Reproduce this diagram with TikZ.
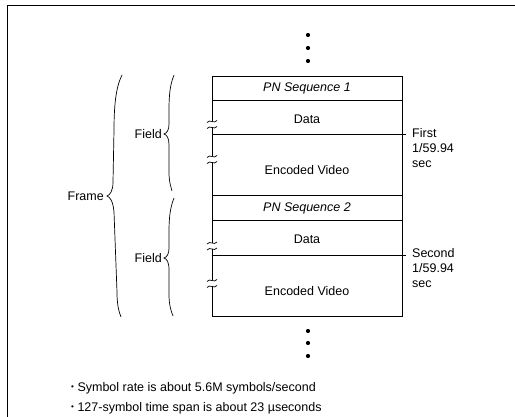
\documentclass[tikz,border=0pt]{standalone}
\usepackage{fontspec}
\setmainfont{Liberation Sans}
\newcommand{\smallbul}{\raisebox{2.2pt}{\fontsize{8}{8}\selectfont •}\hspace{3.5pt}}
\begin{document}
\begin{tikzpicture}[x=1pt,y=-1pt,
  ln/.style={line width=0.8pt},
  thin/.style={line width=0.7pt},
  txt/.style={font=\fontsize{12.5}{15}\selectfont, inner sep=0pt},
  pn/.style={txt, font=\fontsize{12.5}{15}\selectfont\itshape},
  dot/.style={circle, fill=black, inner sep=0pt, minimum size=4.2pt},
  brk/.style={line width=0.7pt}]
\useasboundingbox (0,0) rectangle (515,417);
% outer frame (top and left)
\draw[ln] (515,5) -- (7,5) -- (7,417);
% dots
\foreach \n/\y in {t1/35,t2/48,t3/61,b1/331,b2/343,b3/356}
  \node[dot] (d\n) at (308,\y) {};
% box
\coordinate (tl) at (212,76);
\coordinate (tr) at (402,76);
\coordinate (bl) at (212,316.5);
\coordinate (br) at (402,316.5);
\draw[ln] (tl) -- (tr) -- (br) -- (bl);
\draw[ln] (212,100.5) -- (402,100.5);
\draw[ln] (212,195) -- (402,195);
\draw[ln] (212,220.5) -- (402,220.5);
\draw[thin] (212,134) -- (406,134);
\draw[thin] (212,255) -- (406,255);
% left edge with breaks
\draw[ln] (212,76) -- (212,121.5);
\draw[ln] (212,127.5) -- (212,156.5);
\draw[ln] (212,162.5) -- (212,243);
\draw[ln] (212,249) -- (212,280.5);
\draw[ln] (212,286.5) -- (212,316.5);
\foreach \y in {121.5,127.5,156.5,162.5,243,249,280.5,286.5}
  \draw[brk] (207,\y+1) .. controls (210,\y-3) and (214,\y+3) .. (217,\y-1);
% box texts
\node[pn] (pn1) at (307,88) {PN Sequence 1};
\node[txt] (data1) at (307,119) {Data};
\node[txt] (ev1) at (307,170) {Encoded Video};
\node[pn] (pn2) at (307,208) {PN Sequence 2};
\node[txt] (data2) at (307,239) {Data};
\node[txt] (ev2) at (307,291) {Encoded Video};
% right labels
\node[txt, anchor=west, align=left] (first) at (412,148) {First\\1/59.94\\sec};
\node[txt, anchor=west, align=left] (second) at (412,268.5) {Second\\1/59.94\\sec};
% braces
\draw[thin] (122,75) .. controls (117,85) and (114,100) .. (114,130) -- (113,182)
  .. controls (113,191) and (110,195) .. (107,196)
  .. controls (110,197) and (113,201) .. (114,212) -- (117,292)
  .. controls (117,305) and (119,312) .. (121,317);
\draw[thin] (174,75) .. controls (170,85) and (169,95) .. (169,110) -- (169,124)
  .. controls (169,130) and (167,133) .. (164,134)
  .. controls (167,135) and (169,138) .. (169,145) -- (169,172)
  .. controls (169,182) and (171,187) .. (172,191);
\draw[thin] (174,198) .. controls (170,208) and (169,218) .. (169,232) -- (169,248)
  .. controls (169,254) and (167,257) .. (164,258)
  .. controls (167,259) and (169,262) .. (169,270) -- (169,294)
  .. controls (169,305) and (171,311) .. (173,316);
\node[txt, anchor=east] (field1) at (162,134) {Field};
\node[txt, anchor=east] (field2) at (162,258) {Field};
\node[txt, anchor=east] (frame) at (104,196) {Frame};
% notes
\node[txt, anchor=west] (note1) at (71,388) {\smallbul Symbol rate is about 5.6M symbols/second};
\node[txt, anchor=west] (note2) at (71,408) {\smallbul 127-symbol time span is about 23 µseconds};
\end{tikzpicture}
\end{document}
